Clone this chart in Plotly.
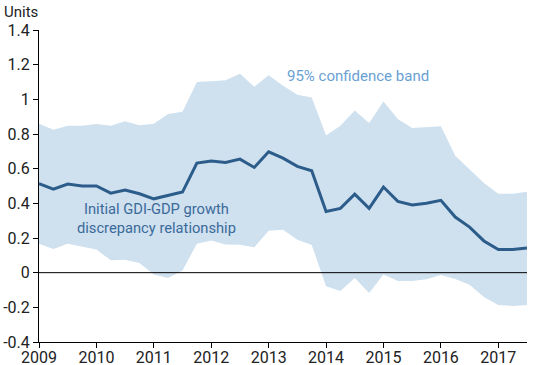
import plotly.graph_objects as go

years = [2009 + 0.25 * i for i in range(35)]
relationship = [0.513, 0.482, 0.511, 0.50, 0.50, 0.459, 0.477, 0.455, 0.426, 0.444, 0.465,
                0.632, 0.644, 0.636, 0.655, 0.607, 0.697, 0.661, 0.613, 0.588,
                0.353, 0.371, 0.453, 0.371, 0.494, 0.411, 0.39, 0.40, 0.417,
                0.321, 0.263, 0.183, 0.133, 0.133, 0.142]
upper = [0.859, 0.824, 0.847, 0.847, 0.857, 0.847, 0.874, 0.851, 0.859, 0.915, 0.928,
         1.10, 1.105, 1.11, 1.147, 1.072, 1.139, 1.078, 1.026, 1.01,
         0.791, 0.847, 0.935, 0.863, 0.987, 0.886, 0.834, 0.841, 0.845,
         0.674, 0.594, 0.517, 0.455, 0.455, 0.467]
lower = [0.167, 0.136, 0.167, 0.152, 0.133, 0.071, 0.075, 0.056, -0.01, -0.031, 0.013,
         0.167, 0.186, 0.163, 0.161, 0.146, 0.242, 0.248, 0.19, 0.16,
         -0.079, -0.106, -0.031, -0.117, -0.01, -0.048, -0.048, -0.038, -0.013,
         -0.036, -0.069, -0.14, -0.186, -0.192, -0.186]
x_ticks = list(range(2009, 2018))
y_ticks = [-0.4, -0.2, 0, 0.2, 0.4, 0.6, 0.8, 1, 1.2, 1.4]
y_tick_text = ["-0.4", "-0.2", "0", "0.2", "0.4", "0.6", "0.8", "1", "1.2", "1.4"]

band_color = "#cfe0ef"
line_color = "#2c5c8a"

fig = go.Figure()
fig.add_trace(go.Scatter(x=years, y=lower, mode="lines", line=dict(width=0, color=band_color),
                         hoverinfo="skip", showlegend=False))
fig.add_trace(go.Scatter(x=years, y=upper, mode="lines", line=dict(width=0, color=band_color),
                         fill="tonexty", fillcolor=band_color, showlegend=False))
fig.add_trace(go.Scatter(x=[2009, 2017.5], y=[0, 0], mode="lines",
                         line=dict(color="black", width=1), hoverinfo="skip", showlegend=False))
fig.add_trace(go.Scatter(x=years, y=relationship, mode="lines",
                         line=dict(color=line_color, width=3), showlegend=False))

fig.add_annotation(x=2014.55, y=1.135, text="95% confidence band", showarrow=False,
                   font=dict(family="Roboto", size=15, color="#6a9fd4"))
fig.add_annotation(x=2011.05, y=0.31, text="Initial GDI-GDP growth<br>discrepancy relationship",
                   showarrow=False, font=dict(family="Roboto", size=14.7, color="#3a6a9a"))
fig.add_annotation(xref="paper", yref="paper", x=-0.076, y=1.092, xanchor="left", yanchor="top",
                   text="Units", showarrow=False, font=dict(family="Roboto", size=15, color="#222"))

fig.update_layout(
    width=550, height=365,
    margin=dict(l=39, r=23, t=30, b=23, autoexpand=False),
    plot_bgcolor="white", paper_bgcolor="white",
    font=dict(family="Roboto", size=16, color="#222"),
    xaxis=dict(range=[2009, 2017.5], tickvals=x_ticks, ticktext=[str(v) for v in x_ticks],
               showgrid=False, zeroline=False, showline=True, linecolor="black", linewidth=1,
               ticks="outside", ticklen=5, tickcolor="black", automargin=False,
               ticklabelstandoff=-4),
    yaxis=dict(range=[-0.4, 1.4], tickvals=y_ticks, ticktext=y_tick_text,
               showgrid=False, zeroline=False, showline=True, linecolor="black", linewidth=1,
               ticks="outside", ticklen=5, tickcolor="black", automargin=False),
)
fig.write_html("out.html", post_script="document.body.style.margin='0';",
               config={"displayModeBar": False})
